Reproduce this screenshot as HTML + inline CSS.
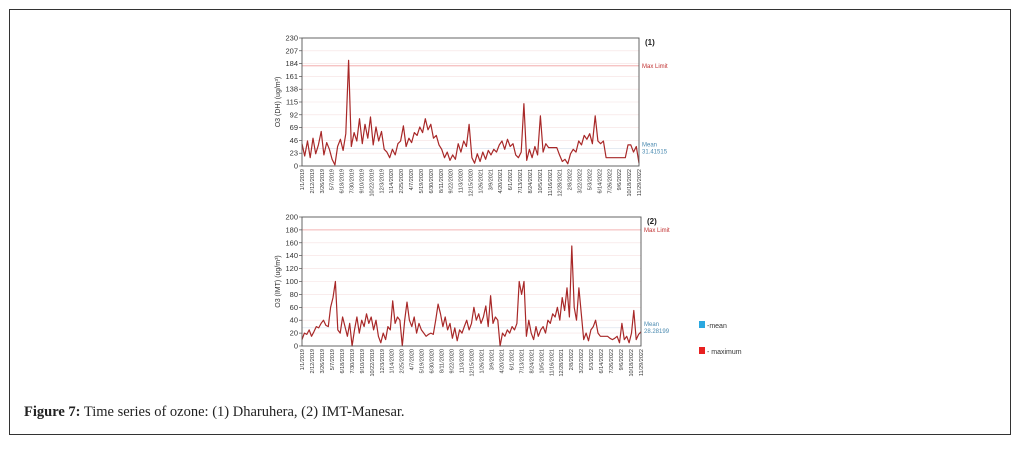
<!DOCTYPE html>
<html><head><meta charset="utf-8"><style>
html,body{margin:0;padding:0;background:#fff;width:1022px;height:449px;overflow:hidden}
#frame{position:absolute;left:9px;top:9px;width:1002px;height:426px;border:1px solid #333;box-sizing:border-box}
#cap{position:absolute;left:24px;top:404px;font-family:"Liberation Serif",serif;font-size:14.5px;color:#222}
svg{position:absolute;left:0;top:0}
</style></head><body>
<div id="frame"></div>
<svg id="chart" width="1022" height="449"></svg>
<div id="cap"><b>Figure 7:</b> Time series of ozone: (1) Dharuhera, (2) IMT-Manesar.</div>
<script>
const dateLabels=["1/1/2019","2/12/2019","3/26/2019","5/7/2019","6/18/2019","7/30/2019","9/10/2019","10/22/2019","12/3/2019","1/14/2020","2/25/2020","4/7/2020","5/19/2020","6/30/2020","8/11/2020","9/22/2020","11/3/2020","12/15/2020","1/26/2021","3/9/2021","4/20/2021","6/1/2021","7/13/2021","8/24/2021","10/5/2021","11/16/2021","12/28/2021","2/8/2022","3/22/2022","5/3/2022","6/14/2022","7/26/2022","9/6/2022","10/18/2022","11/29/2022"];
const topTicks=[0,23,46,69,92,115,138,161,184,207,230];
const botTicks=[0,20,40,60,80,100,120,140,160,180,200];
const topValues=[40,18,45,15,50,22,38,62,20,42,30,12,2,35,48,28,58,190,35,60,45,85,40,75,50,88,38,70,45,62,30,25,15,30,20,40,45,72,35,50,42,60,55,70,60,85,65,75,50,55,38,30,15,25,10,20,12,40,25,45,35,75,15,5,22,8,25,12,28,20,30,25,38,45,30,48,35,40,20,15,25,112,10,30,15,35,20,90,25,40,33,33,33,33,20,8,12,4,22,30,25,45,38,55,48,58,40,90,45,40,45,15,15,15,15,15,15,15,15,38,38,25,35,5];
const botValues=[10,20,18,25,15,22,30,28,35,40,32,30,60,75,100,25,20,45,30,15,35,0,25,45,20,40,30,50,35,45,25,40,15,5,20,10,30,25,70,35,45,40,0,40,68,40,30,45,20,35,25,20,15,18,20,18,40,65,50,30,45,25,35,12,28,8,25,20,30,40,25,35,60,40,50,35,45,62,30,78,35,45,40,0,20,15,25,20,30,25,35,100,80,100,15,40,20,10,30,15,25,30,20,40,35,50,45,60,40,75,55,90,45,155,60,40,90,50,10,20,8,25,30,40,20,15,15,15,15,12,10,12,15,5,35,10,15,5,20,55,10,18,22];
const topMean=31.41515, botMean=28.28199, maxLimit=180;
const NS="http://www.w3.org/2000/svg";
const svg=document.getElementById('chart');
function mk(tag,attrs,parent){const e=document.createElementNS(NS,tag);for(const k in attrs)e.setAttribute(k,attrs[k]);(parent||svg).appendChild(e);return e;}
function panel(cfg){
  const g=mk('g',{});
  
  
  const x=i=>cfg.x0+(cfg.x1-cfg.x0)*i/(cfg.values.length-1);
  const y=v=>cfg.y1-(cfg.y1-cfg.y0)*v/cfg.max;
  cfg.ticks.forEach(t=>{
    const gl=mk('line',{x1:cfg.x0,x2:cfg.x1,y1:y(t),y2:y(t),stroke:'#f6e0e0','stroke-width':0.6},g);
    
    
    const tl=mk('text',{x:cfg.x0-4,y:y(t)+2.5,'font-size':7.5,'text-anchor':'end','font-family':'Liberation Sans, sans-serif',fill:'#333'},g);
    tl.textContent=t;
    
    
    mk('line',{x1:cfg.x0-3,x2:cfg.x0,y1:y(t),y2:y(t),stroke:'#333','stroke-width':0.6},g);
  });
  const ml=mk('line',{x1:cfg.x0,x2:cfg.x1,y1:y(maxLimit),y2:y(maxLimit),stroke:'#f0a0a0','stroke-width':0.8},g);
  
  
  const mn=mk('line',{x1:cfg.x0,x2:cfg.x1,y1:y(cfg.mean),y2:y(cfg.mean),stroke:'#dde4ee','stroke-width':0.8},g);
  
  
  const pts=cfg.values.map((v,i)=>x(i).toFixed(1)+','+y(v).toFixed(1)).join(' ');
  const pl=mk('polyline',{points:pts,fill:'none',stroke:'#a82828','stroke-width':1.2,'stroke-linejoin':'round'},g);
  
  
  const ax=mk('rect',{x:cfg.x0,y:cfg.y0,width:cfg.x1-cfg.x0,height:cfg.y1-cfg.y0,fill:'none',stroke:'#555','stroke-width':0.9},g);
  
  
  dateLabels.forEach((d,i)=>{
    const xx=cfg.x0+(cfg.x1-cfg.x0)*i/(dateLabels.length-1);
    const t=mk('text',{x:0,y:0,'font-size':5.5,'text-anchor':'end','font-family':'Liberation Sans, sans-serif',fill:'#333',transform:`translate(${xx+2},${cfg.y1+3}) rotate(-90)`},g);
    t.textContent=d;
    
    
  });
  const yt=mk('text',{x:0,y:0,'font-size':7,'text-anchor':'middle','font-family':'Liberation Sans, sans-serif',fill:'#333',transform:`translate(${cfg.x0-22},${(cfg.y0+cfg.y1)/2}) rotate(-90)`},g);
  yt.textContent=cfg.ytitle;
  
  
  const pn=mk('text',{x:cfg.x1+6,y:cfg.y0+7,'font-size':8,'font-weight':'bold','font-family':'Liberation Sans, sans-serif',fill:'#222'},g);
  pn.textContent=cfg.label;
  
  
  const mlt=mk('text',{x:cfg.x1+3,y:y(maxLimit)+2,'font-size':6,'font-family':'Liberation Sans, sans-serif',fill:'#c03030'},g);
  mlt.textContent='Max Limit';
  
  
  const m1=mk('text',{x:cfg.x1+3,y:y(cfg.mean)-2,'font-size':6,'font-family':'Liberation Sans, sans-serif',fill:'#4a8ab0'},g);
  m1.textContent='Mean';
  
  
  const m2=mk('text',{x:cfg.x1+3,y:y(cfg.mean)+5,'font-size':6,'font-family':'Liberation Sans, sans-serif',fill:'#4a8ab0'},g);
  m2.textContent=cfg.mean.toFixed(5).replace(/0+$/,'');
  
  
}
panel({name:'chart-dharuhera',x0:302,x1:639,y0:38,y1:166,max:230,ticks:topTicks,values:topValues,mean:topMean,ytitle:'O3 (DH) (ug/m³)',label:'(1)'});
panel({name:'chart-imt-manesar',x0:302,x1:641,y0:217,y1:346,max:200,ticks:botTicks,values:botValues,mean:botMean,ytitle:'O3 (IMT) (ug/m³)',label:'(2)'});
const lg=mk('g',{});


const r1=mk('rect',{x:699,y:321,width:6,height:7,fill:'#2aa8e0'},lg);


const t1=mk('text',{x:707,y:328,'font-size':7,'font-family':'Liberation Sans, sans-serif',fill:'#333'},lg);
t1.textContent='-mean';


const r2=mk('rect',{x:699,y:347,width:6,height:7,fill:'#e82020'},lg);


const t2=mk('text',{x:707,y:354,'font-size':7,'font-family':'Liberation Sans, sans-serif',fill:'#333'},lg);
t2.textContent='- maximum';


</script>
</body></html>
